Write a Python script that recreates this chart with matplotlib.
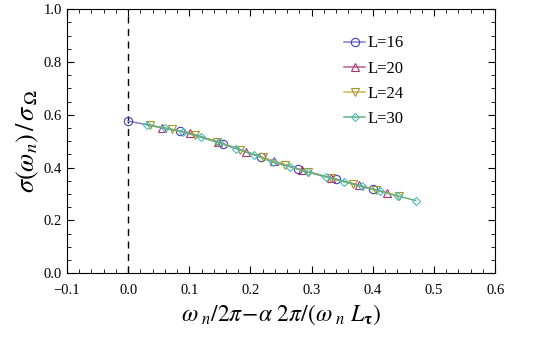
import matplotlib
matplotlib.use("Agg")
import matplotlib.pyplot as plt
from matplotlib.ticker import MultipleLocator

plt.rcParams['font.family'] = ['Liberation Serif', 'DejaVu Serif']
plt.rcParams['mathtext.fontset'] = 'stix'

labels = ['L=16', 'L=20', 'L=24', 'L=30']

x16 = [0.0, 0.085, 0.155, 0.217, 0.278, 0.340, 0.400]
y16 = [0.576, 0.538, 0.490, 0.440, 0.394, 0.355, 0.317]

x20 = [0.055, 0.101, 0.147, 0.193, 0.239, 0.285, 0.331, 0.377, 0.423]
y20 = [0.551, 0.531, 0.496, 0.459, 0.423, 0.389, 0.360, 0.333, 0.303]

x24 = [0.035, 0.072, 0.109, 0.146, 0.183, 0.220, 0.257, 0.294, 0.331, 0.368, 0.405, 0.442]
y24 = [0.560, 0.544, 0.523, 0.497, 0.468, 0.438, 0.410, 0.383, 0.360, 0.337, 0.314, 0.292]

x30 = [0.031, 0.060, 0.089, 0.119, 0.148, 0.177, 0.206, 0.236, 0.265, 0.294,
       0.324, 0.353, 0.382, 0.412, 0.441, 0.470]
y30 = [0.561, 0.549, 0.536, 0.516, 0.495, 0.472, 0.449, 0.420, 0.403, 0.383,
       0.365, 0.347, 0.329, 0.312, 0.292, 0.275]

series = [(x16, y16), (x20, y20), (x24, y24), (x30, y30)]
markers = ['o', '^', 'v', 'D']
msizes = [6, 5.5, 5.5, 4.5]
line_colors = ['#8080cc', '#b9609a', '#c8b85a', '#6ab07a']
marker_colors = ['#4040b8', '#b03070', '#a89420', '#40c0c8']

fig = plt.figure(figsize=(5.4, 3.38), dpi=100)
ax = fig.add_axes([0.124, 0.192, 0.793, 0.781])

ax.axvline(0, color='black', lw=1, ls=(0, (5, 4)))

for (xs, ys), lab, m, ms, lc, mc in zip(series, labels, markers, msizes, line_colors, marker_colors):
    ax.plot(xs, ys, color=lc, lw=1.1, marker=m, ms=ms, mfc='none',
            mec=mc, mew=0.8, label=lab)

ax.set_xlim(-0.1, 0.6)
ax.set_ylim(0.0, 1.0)
ax.xaxis.set_major_locator(MultipleLocator(0.1))
ax.xaxis.set_minor_locator(MultipleLocator(0.02))
ax.yaxis.set_major_locator(MultipleLocator(0.2))
ax.yaxis.set_minor_locator(MultipleLocator(0.05))
ax.tick_params(which='both', direction='in', top=True, right=True, labelsize=10.5)
ax.tick_params(which='major', length=5, width=0.8)
ax.tick_params(which='minor', length=3, width=0.6)
ax.tick_params(axis='x', pad=8)
ax.xaxis.set_major_formatter(plt.FuncFormatter(lambda v, p: f'{v:.1f}'.replace('-', '\u2212')))
ax.yaxis.set_major_formatter(plt.FuncFormatter(lambda v, p: f'{v:.1f}'))
for s in ax.spines.values():
    s.set_linewidth(0.8)

ax.set_ylabel(r'$\sigma(\omega_n)\,/\,\sigma_{\,\Omega}$', fontsize=19, labelpad=2)
ax.set_xlabel(r'$\omega_{\ n}/2\pi\!-\!\alpha\ 2\pi/(\omega_{\ n}\ L_{\mathbf{\tau}})$', fontsize=17, labelpad=4)

ax.legend(loc='upper left', bbox_to_anchor=(0.627, 0.932), frameon=False, fontsize=12,
          handlelength=1.3, handletextpad=0.15, labelspacing=0.55, borderpad=0)

fig.savefig('out.png', dpi=100)
